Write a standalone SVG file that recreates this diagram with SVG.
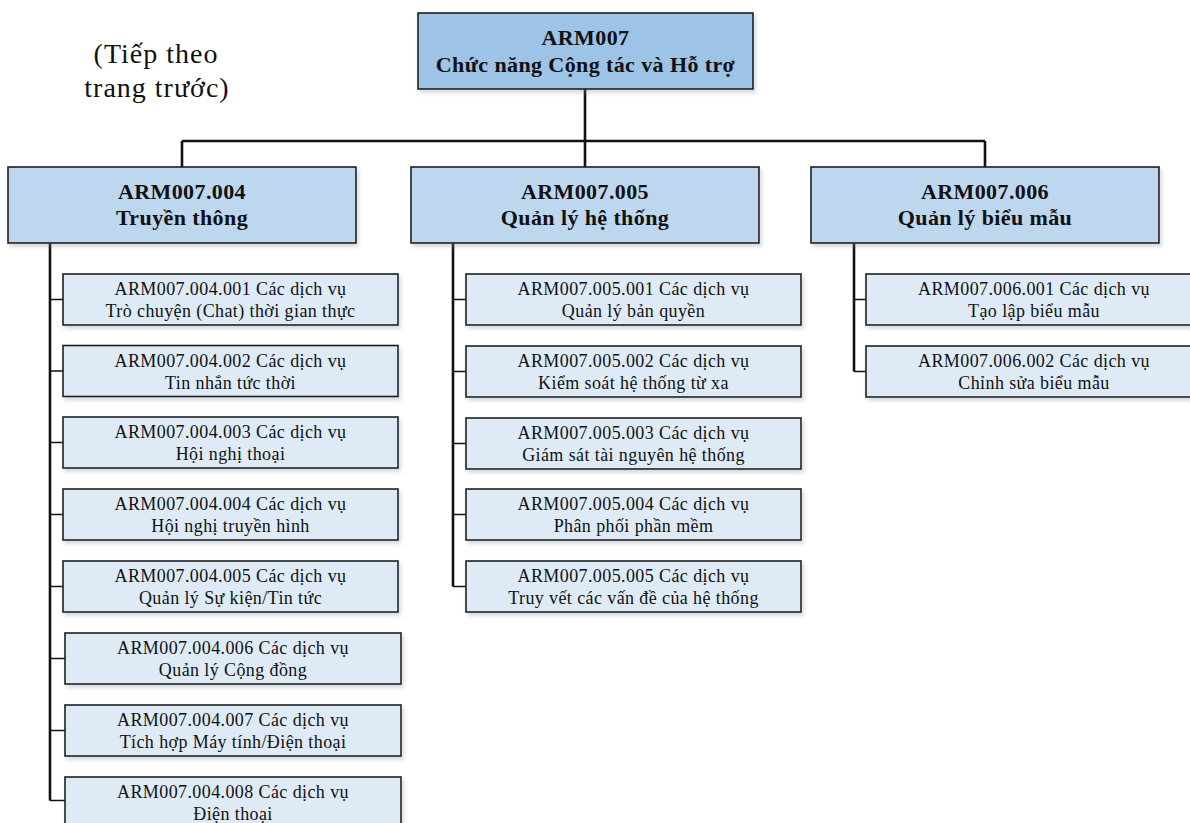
<svg xmlns="http://www.w3.org/2000/svg" width="1190" height="823" viewBox="0 0 1190 823" font-family="'Liberation Serif', 'Times New Roman', 'DejaVu Serif', serif">
<defs>
<filter id="sh" x="-5%" y="-10%" width="115%" height="130%">
<feDropShadow dx="2" dy="3" stdDeviation="2" flood-color="#7f8fa0" flood-opacity="0.35"/>
</filter>
<style>
.box{stroke:#1e1e1e;stroke-width:1.6;filter:url(#sh)}
.top{fill:#9DC3E6}
.l1{fill:#BDD7EE}
.l2{fill:#DEEBF7}
text{font-family:'Liberation Serif','Times New Roman','DejaVu Serif',serif}
.t{fill:#111;text-anchor:middle}
.tb{font-size:22px;font-weight:bold;letter-spacing:0.4px}
.ts{font-size:18px;letter-spacing:0.4px}
.note{font-size:28px;letter-spacing:1px}
.stem{stroke:#111;stroke-width:2.6;fill:none}
.br{stroke:#111;stroke-width:1.6;fill:none}
</style>
</defs>
<rect width="1190" height="823" fill="#fff"/>
<g id="note">
<text class="t note" x="156" y="63">(Tiếp theo</text>
<text class="t note" x="157" y="97">trang trước)</text>
</g>
<g id="connectors">
<path class="stem" d="M585 89 V141 M182 141 H985 M182 141 V167 M585 141 V167 M985 141 V167"/>
<path class="stem" d="M50 243 V800.5"/>
<path class="br" d="M50 299.5 H63 M50 371 H63 M50 442.5 H63 M50 514.5 H63 M50 586.5 H63 M50 658.5 H65 M50 730.5 H65 M50 800.5 H65"/>
<path class="stem" d="M453 243 V586.5"/>
<path class="br" d="M453 299.5 H466 M453 371.5 H466 M453 443.5 H466 M453 514.5 H466 M453 586.5 H466"/>
<path class="stem" d="M854 243 V371.5"/>
<path class="br" d="M854 299.5 H866 M854 371.5 H866"/>
</g>
<g id="ARM007">
<rect class="box top" x="418" y="13" width="335" height="76"/>
<text class="t tb" x="585.5" y="45">ARM007</text>
<text class="t tb" x="585.5" y="72">Chức năng Cộng tác và Hỗ trợ</text>
</g>
<g id="ARM007.004">
<rect class="box l1" x="8" y="167" width="348" height="76"/>
<text class="t tb" x="182" y="199">ARM007.004</text>
<text class="t tb" x="182" y="225">Truyền thông</text>
</g>
<g id="ARM007.005">
<rect class="box l1" x="411" y="167" width="348" height="76"/>
<text class="t tb" x="585" y="199">ARM007.005</text>
<text class="t tb" x="585" y="225">Quản lý hệ thống</text>
</g>
<g id="ARM007.006">
<rect class="box l1" x="811" y="167" width="348" height="76"/>
<text class="t tb" x="985" y="199">ARM007.006</text>
<text class="t tb" x="985" y="225">Quản lý biểu mẫu</text>
</g>
<g id="ARM007.004.001">
<rect class="box l2" x="63" y="274" width="335" height="51"/>
<text class="t ts" x="230.5" y="295">ARM007.004.001 Các dịch vụ</text>
<text class="t ts" x="230.5" y="317">Trò chuyện (Chat) thời gian thực</text>
</g>
<g id="ARM007.004.002">
<rect class="box l2" x="63" y="345.5" width="335" height="51"/>
<text class="t ts" x="230.5" y="366.5">ARM007.004.002 Các dịch vụ</text>
<text class="t ts" x="230.5" y="388.5">Tin nhắn tức thời</text>
</g>
<g id="ARM007.004.003">
<rect class="box l2" x="63" y="417" width="335" height="51"/>
<text class="t ts" x="230.5" y="438">ARM007.004.003 Các dịch vụ</text>
<text class="t ts" x="230.5" y="460">Hội nghị thoại</text>
</g>
<g id="ARM007.004.004">
<rect class="box l2" x="63" y="489" width="335" height="51"/>
<text class="t ts" x="230.5" y="510">ARM007.004.004 Các dịch vụ</text>
<text class="t ts" x="230.5" y="532">Hội nghị truyền hình</text>
</g>
<g id="ARM007.004.005">
<rect class="box l2" x="63" y="561" width="335" height="51"/>
<text class="t ts" x="230.5" y="582">ARM007.004.005 Các dịch vụ</text>
<text class="t ts" x="230.5" y="604">Quản lý Sự kiện/Tin tức</text>
</g>
<g id="ARM007.004.006">
<rect class="box l2" x="65" y="633" width="336" height="51"/>
<text class="t ts" x="233" y="654">ARM007.004.006 Các dịch vụ</text>
<text class="t ts" x="233" y="676">Quản lý Cộng đồng</text>
</g>
<g id="ARM007.004.007">
<rect class="box l2" x="65" y="705" width="336" height="51"/>
<text class="t ts" x="233" y="726">ARM007.004.007 Các dịch vụ</text>
<text class="t ts" x="233" y="748">Tích hợp Máy tính/Điện thoại</text>
</g>
<g id="ARM007.004.008">
<rect class="box l2" x="65" y="777" width="336" height="51"/>
<text class="t ts" x="233" y="798">ARM007.004.008 Các dịch vụ</text>
<text class="t ts" x="233" y="820">Điện thoại</text>
</g>
<g id="ARM007.005.001">
<rect class="box l2" x="466" y="274" width="335" height="51"/>
<text class="t ts" x="633.5" y="295">ARM007.005.001 Các dịch vụ</text>
<text class="t ts" x="633.5" y="317">Quản lý bản quyền</text>
</g>
<g id="ARM007.005.002">
<rect class="box l2" x="466" y="346" width="335" height="51"/>
<text class="t ts" x="633.5" y="367">ARM007.005.002 Các dịch vụ</text>
<text class="t ts" x="633.5" y="389">Kiểm soát hệ thống từ xa</text>
</g>
<g id="ARM007.005.003">
<rect class="box l2" x="466" y="418" width="335" height="51"/>
<text class="t ts" x="633.5" y="439">ARM007.005.003 Các dịch vụ</text>
<text class="t ts" x="633.5" y="461">Giám sát tài nguyên hệ thống</text>
</g>
<g id="ARM007.005.004">
<rect class="box l2" x="466" y="489" width="335" height="51"/>
<text class="t ts" x="633.5" y="510">ARM007.005.004 Các dịch vụ</text>
<text class="t ts" x="633.5" y="532">Phân phối phần mềm</text>
</g>
<g id="ARM007.005.005">
<rect class="box l2" x="466" y="561" width="335" height="51"/>
<text class="t ts" x="633.5" y="582">ARM007.005.005 Các dịch vụ</text>
<text class="t ts" x="633.5" y="604">Truy vết các vấn đề của hệ thống</text>
</g>
<g id="ARM007.006.001">
<rect class="box l2" x="866" y="274" width="335" height="51"/>
<text class="t ts" x="1034" y="295">ARM007.006.001 Các dịch vụ</text>
<text class="t ts" x="1034" y="317">Tạo lập biểu mẫu</text>
</g>
<g id="ARM007.006.002">
<rect class="box l2" x="866" y="346" width="335" height="51"/>
<text class="t ts" x="1034" y="367">ARM007.006.002 Các dịch vụ</text>
<text class="t ts" x="1034" y="389">Chỉnh sửa biểu mẫu</text>
</g>
</svg>
